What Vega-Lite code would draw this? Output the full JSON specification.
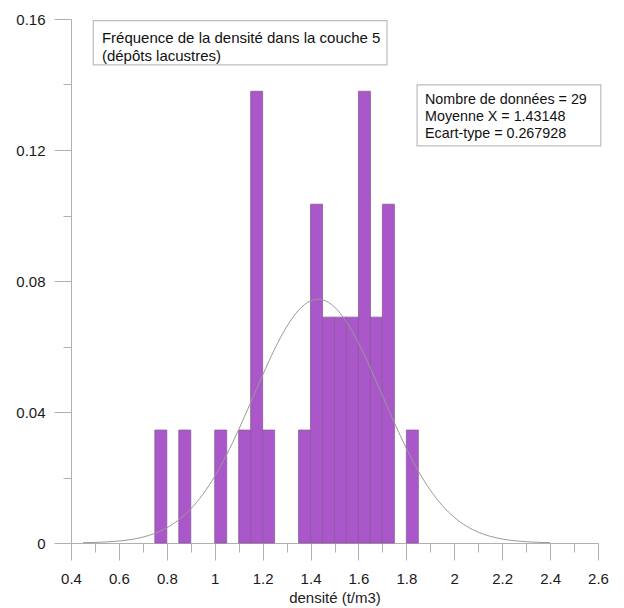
{
  "$schema": "https://vega.github.io/schema/vega-lite/v6.json",
  "width": 527,
  "height": 524,
  "autosize": {"type": "none"},
  "padding": {"left": 71, "top": 19, "right": 26, "bottom": 65},
  "background": "white",
  "config": {
    "view": {"stroke": null},
    "font": "Liberation Sans"
  },
  "datasets": {
    "bins": [
      {"x": 0.75, "x2": 0.80, "y": 0.034483},
      {"x": 0.85, "x2": 0.90, "y": 0.034483},
      {"x": 1.00, "x2": 1.05, "y": 0.034483},
      {"x": 1.10, "x2": 1.15, "y": 0.034483},
      {"x": 1.15, "x2": 1.20, "y": 0.137931},
      {"x": 1.20, "x2": 1.25, "y": 0.034483},
      {"x": 1.35, "x2": 1.40, "y": 0.034483},
      {"x": 1.40, "x2": 1.45, "y": 0.103448},
      {"x": 1.45, "x2": 1.50, "y": 0.068966},
      {"x": 1.50, "x2": 1.55, "y": 0.068966},
      {"x": 1.55, "x2": 1.60, "y": 0.068966},
      {"x": 1.60, "x2": 1.65, "y": 0.137931},
      {"x": 1.65, "x2": 1.70, "y": 0.068966},
      {"x": 1.70, "x2": 1.75, "y": 0.103448},
      {"x": 1.80, "x2": 1.85, "y": 0.034483}
    ],
    "curve": [
      {"x": 0.45, "y": 0.000091},
      {"x": 0.50, "y": 0.000177},
      {"x": 0.55, "y": 0.000332},
      {"x": 0.60, "y": 0.000603},
      {"x": 0.65, "y": 0.001058},
      {"x": 0.70, "y": 0.001792},
      {"x": 0.75, "y": 0.002931},
      {"x": 0.80, "y": 0.004630},
      {"x": 0.85, "y": 0.007065},
      {"x": 0.90, "y": 0.010409},
      {"x": 0.95, "y": 0.014811},
      {"x": 1.00, "y": 0.020354},
      {"x": 1.05, "y": 0.027019},
      {"x": 1.10, "y": 0.034633},
      {"x": 1.15, "y": 0.042874},
      {"x": 1.20, "y": 0.051257},
      {"x": 1.25, "y": 0.059188},
      {"x": 1.30, "y": 0.066004},
      {"x": 1.35, "y": 0.071086},
      {"x": 1.40, "y": 0.073938},
      {"x": 1.43148, "y": 0.074450},
      {"x": 1.45, "y": 0.074272},
      {"x": 1.50, "y": 0.072055},
      {"x": 1.55, "y": 0.067511},
      {"x": 1.60, "y": 0.061088},
      {"x": 1.65, "y": 0.053383},
      {"x": 1.70, "y": 0.045056},
      {"x": 1.75, "y": 0.036726},
      {"x": 1.80, "y": 0.028911},
      {"x": 1.85, "y": 0.021979},
      {"x": 1.90, "y": 0.016137},
      {"x": 1.95, "y": 0.011444},
      {"x": 2.00, "y": 0.007837},
      {"x": 2.05, "y": 0.005183},
      {"x": 2.10, "y": 0.003310},
      {"x": 2.15, "y": 0.002042},
      {"x": 2.20, "y": 0.001217},
      {"x": 2.25, "y": 0.000700},
      {"x": 2.30, "y": 0.000389},
      {"x": 2.35, "y": 0.000209},
      {"x": 2.40, "y": 0.000108}
    ],
    "boxes": [
      {"x": 0.493, "x2": 1.719, "y": 0.1595, "y2": 0.1460},
      {"x": 1.8447, "x2": 2.6117, "y": 0.13986, "y2": 0.12124}
    ],
    "titleLabels": [
      {"x": 0.529, "y": 0.1542, "text": "Fréquence de la densité dans la couche 5"},
      {"x": 0.529, "y": 0.1488, "text": "(dépôts lacustres)"}
    ],
    "statLabels": [
      {"x": 1.878, "y": 0.1353, "text": "Nombre de données = 29"},
      {"x": 1.878, "y": 0.1301, "text": "Moyenne X = 1.43148"},
      {"x": 1.878, "y": 0.1249, "text": "Ecart-type = 0.267928"}
    ]
  },
  "encoding": {
    "x": {
      "field": "x",
      "type": "quantitative",
      "scale": {"domain": [0.4, 2.6], "nice": false, "zero": false},
      "axis": {
        "values": [0.4, 0.5, 0.6, 0.7, 0.8, 0.9, 1.0, 1.1, 1.2, 1.3, 1.4, 1.5, 1.6, 1.7, 1.8, 1.9, 2.0, 2.1, 2.2, 2.3, 2.4, 2.5, 2.6],
        "labelExpr": "abs(datum.value*5 - round(datum.value*5)) < 0.001 ? format(datum.value, '~g') : ''",
        "tickSize": {"condition": {"test": "abs(datum.value*5 - round(datum.value*5)) < 0.001", "value": 17}, "value": 9},
        "grid": false,
        "domainColor": "#b0b0b0",
        "tickColor": "#b0b0b0",
        "labelColor": "#1a1a1a",
        "labelFont": "Liberation Sans",
        "labelFontSize": 15,
        "labelPadding": 11,
        "labelFlush": false,
        "labelOverlap": false,
        "title": "densité (t/m3)",
        "titleFont": "Liberation Sans",
        "titleFontSize": 15,
        "titleFontWeight": "normal",
        "titleColor": "#222222",
        "titlePadding": 4
      }
    },
    "y": {
      "field": "y",
      "type": "quantitative",
      "scale": {"domain": [0, 0.16], "nice": false, "zero": true},
      "axis": {
        "values": [0, 0.02, 0.04, 0.06, 0.08, 0.1, 0.12, 0.14, 0.16],
        "labelExpr": "abs(datum.value*25 - round(datum.value*25)) < 0.001 ? format(datum.value, '~g') : ''",
        "tickSize": {"condition": {"test": "abs(datum.value*25 - round(datum.value*25)) < 0.001", "value": 17}, "value": 8},
        "grid": false,
        "domainColor": "#b0b0b0",
        "tickColor": "#b0b0b0",
        "labelColor": "#1a1a1a",
        "labelFont": "Liberation Sans",
        "labelFontSize": 15,
        "labelPadding": 9,
        "labelFlush": false,
        "labelOverlap": false,
        "title": null
      }
    }
  },
  "layer": [
    {
      "data": {"name": "bins"},
      "mark": {"type": "rect", "fill": "#a957c9", "stroke": "#8c5a9c", "strokeWidth": 0.8},
      "encoding": {
        "x2": {"field": "x2"},
        "y2": {"datum": 0}
      }
    },
    {
      "data": {"name": "curve"},
      "mark": {"type": "line", "color": "#9a9a9a", "strokeWidth": 1, "interpolate": "monotone"},
      "encoding": {}
    },
    {
      "data": {"name": "boxes"},
      "mark": {"type": "rect", "fill": "white", "stroke": "#bdbdbd", "strokeWidth": 1.2},
      "encoding": {
        "x2": {"field": "x2"},
        "y2": {"field": "y2"}
      }
    },
    {
      "data": {"name": "titleLabels"},
      "mark": {"type": "text", "align": "left", "baseline": "middle", "font": "Liberation Sans", "fontSize": 15, "color": "#111111"},
      "encoding": {
        "text": {"field": "text"}
      }
    },
    {
      "data": {"name": "statLabels"},
      "mark": {"type": "text", "align": "left", "baseline": "middle", "font": "Liberation Sans", "fontSize": 14.3, "color": "#111111"},
      "encoding": {
        "text": {"field": "text"}
      }
    }
  ]
}
